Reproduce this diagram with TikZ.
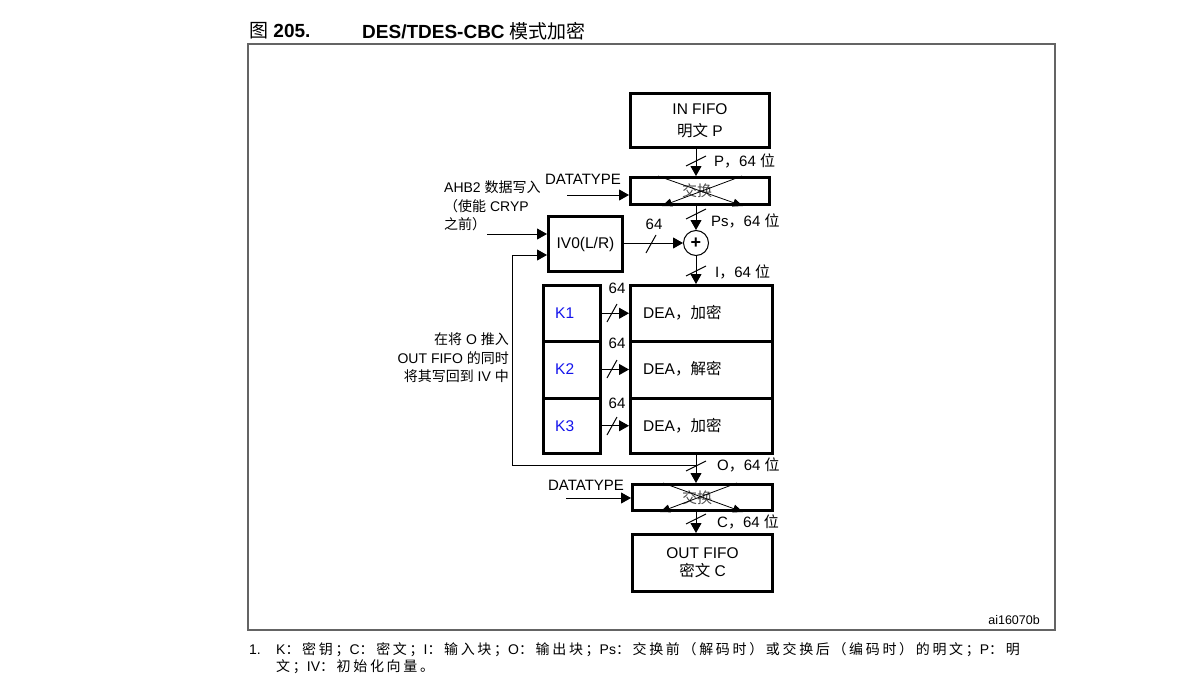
\documentclass[tikz,border=0pt]{standalone}
\usepackage{fontspec}
\setmainfont{Liberation Sans}
\newfontfamily\cjkf{Noto Sans CJK SC}
\newfontfamily\cjkfn[LetterSpace=19]{Noto Sans CJK SC}
\newcommand\zh[1]{{\cjkf #1}}
\newcommand\zf[1]{{\cjkfn #1}}
\usetikzlibrary{arrows.meta}
\definecolor{kblue}{RGB}{20,20,235}
\definecolor{framegray}{RGB}{100,100,100}
\newcommand\vsl[1]{\draw[slash] (#1) ++(-10,5) -- ++(20,-10);}
\newcommand\hsl[1]{\draw[slash] (#1) ++(-5,9) -- ++(10,-18);}
\begin{document}
\begin{tikzpicture}[x=1pt,y=-1pt,
  box/.style={draw, line width=3pt, inner sep=0pt, font=\fontsize{15.5}{19}\selectfont},
  lab/.style={inner sep=0pt, font=\fontsize{15}{18}\selectfont},
  note/.style={inner sep=0pt, font=\fontsize{14}{18.5}\selectfont},
  arr/.style={-{Triangle[length=10pt,width=11pt]}, line width=1pt},
  sarr/.style={-{Triangle[length=10pt,width=8pt]}, line width=0.8pt},
  slash/.style={line width=1pt},
  ktext/.style={text=kblue, font=\fontsize{15.5}{19}\selectfont}
]
\useasboundingbox (0,0) rectangle (1187,699);
% title
\node[anchor=west, inner sep=0pt, font=\fontsize{19}{22}\selectfont\bfseries] (t1) at (249,31) {\zh{\mdseries 图} 205.};
\node[anchor=west, inner sep=0pt, font=\fontsize{19}{22}\selectfont\bfseries] (t2) at (362,31) {DES/TDES-CBC \zh{\mdseries 模式加密}};
% frame
\draw[framegray, line width=1.3pt] (248,44) rectangle (1055,630);
% boxes
\node[box, minimum width=139, minimum height=54, align=center] (infifo) at (700,120.5) {IN FIFO\\[3pt]\zh{明文} P};
\node[box, minimum width=139, minimum height=27] (swap1) at (700,191) {};
\node[box, minimum width=74, minimum height=55] (iv) at (585.5,244) {IV0(L/R)};
\node[draw, circle, line width=1pt, minimum size=25, inner sep=0pt, font=\fontsize{18}{18}\selectfont\bfseries] (xor) at (696,243) {+};
\node[box, minimum width=57, minimum height=55.5] (k1) at (572,313.25) {};
\node[box, minimum width=57, minimum height=57] (k2) at (572,369.5) {};
\node[box, minimum width=57, minimum height=55.5] (k3) at (572,425.75) {};
\node[box, minimum width=142, minimum height=55.5] (dea1) at (701.5,313.25) {};
\node[box, minimum width=142, minimum height=57] (dea2) at (701.5,369.5) {};
\node[box, minimum width=142, minimum height=55.5] (dea3) at (701.5,425.75) {};
\node[box, minimum width=140, minimum height=26] (swap2) at (702.5,497.5) {};
\node[box, minimum width=140, minimum height=57, align=center] (outfifo) at (702.5,563) {OUT FIFO\\[-1pt]\zh{密文} C};
% texts in K and DEA boxes
\node[ktext, anchor=west, inner sep=0pt] (k1t) at (555,313) {K1};
\node[ktext, anchor=west, inner sep=0pt] (k2t) at (555,369) {K2};
\node[ktext, anchor=west, inner sep=0pt] (k3t) at (555,426) {K3};
\node[lab, anchor=west, font=\fontsize{15.5}{19}\selectfont] (d1t) at (643,313) {DEA\zh{，加密}};
\node[lab, anchor=west, font=\fontsize{15.5}{19}\selectfont] (d2t) at (643,369) {DEA\zh{，解密}};
\node[lab, anchor=west, font=\fontsize{15.5}{19}\selectfont] (d3t) at (643,426) {DEA\zh{，加密}};
% swap texts and crosses
\node[lab, font=\fontsize{15}{18}\selectfont\cjkf, text=black!70] (sw1t) at (697,191) {交换};
\node[lab, font=\fontsize{15}{18}\selectfont\cjkf, text=black!70] (sw2t) at (697,498) {交换};
\draw[sarr] ([xshift=-42pt]swap1.north) -- ([xshift=43pt]swap1.south);
\draw[sarr] ([xshift=42pt]swap1.north) -- ([xshift=-38pt]swap1.south);
\draw[sarr] ([xshift=-39.5pt]swap2.north) -- ([xshift=40.5pt]swap2.south);
\draw[sarr] ([xshift=34.5pt]swap2.north) -- ([xshift=-42.5pt]swap2.south);
% main connectors
\draw[arr] (infifo.south -| xor) -- (swap1.north -| xor);
\draw[arr] (swap1.south -| xor) -- (xor.north);
\draw[arr] (xor.south) -- (dea1.north -| xor);
\draw[arr] (iv.east |- xor) -- (xor.west);
\draw[arr] (k1.east) -- (dea1.west);
\draw[arr] (k2.east) -- (dea2.west);
\draw[arr] (k3.east) -- (dea3.west);
\draw[arr] (dea3.south -| xor) -- (swap2.north -| xor);
\draw[arr] (swap2.south -| xor) -- (outfifo.north -| xor);
% feedback
\coordinate (fb) at (696,465);
\coordinate (fbl) at (512,465);
\draw[arr] (fb) -- (fbl) |- ([yshift=-11pt]iv.west);
% side inputs
\coordinate (ahb) at (487,234);
\draw[arr] (ahb) -- (ahb -| iv.west);
\coordinate (dt1) at (567,195);
\draw[arr] (dt1) -- (dt1 -| swap1.west);
\coordinate (dt2) at (566,498);
\draw[arr] (dt2) -- (dt2 -| swap2.west);
% slashes
\vsl{696,161}
\vsl{696,214}
\vsl{696,271}
\vsl{696,466}
\vsl{696,519}
\hsl{651,244}
\hsl{612,313}
\hsl{612,369}
\hsl{612,426}
% labels
\node[lab, anchor=west] (lp) at (714,161) {P\zh{，}64 \zh{位}};
\node[lab, anchor=west] (lps) at (711,221) {Ps\zh{，}64 \zh{位}};
\node[lab, anchor=west] (li) at (715,272) {I\zh{，}64 \zh{位}};
\node[lab, anchor=west] (lo) at (717,465) {O\zh{，}64 \zh{位}};
\node[lab, anchor=west] (lc) at (717,522) {C\zh{，}64 \zh{位}};
\node[lab] (l64a) at (654,224) {64};
\node[lab] (l64b) at (617,288) {64};
\node[lab] (l64c) at (617,343) {64};
\node[lab] (l64d) at (617,403) {64};
\node[lab] (dtl1) at (583,179) {DATATYPE};
\node[lab] (dtl2) at (586,485) {DATATYPE};
\node[note, anchor=north west, align=left] (ahbt) at (444,181) {AHB2 \zh{数据写入}\\\zh{（使能} CRYP\\\zh{之前）}};
\node[note, anchor=north east, align=right] (fbt) at (509,333) {\zh{在将} O \zh{推入}\\OUT FIFO \zh{的同时}\\\zh{将其写回到} IV \zh{中}};
\node[inner sep=0pt, anchor=east, font=\fontsize{12.5}{15}\selectfont] (ai) at (1040,620) {ai16070b};
% footnote
\node[inner sep=0pt, anchor=west, font=\fontsize{14}{16}\selectfont] (fn0) at (249,650) {1.};
\node[inner sep=0pt, anchor=west, font=\fontsize{14}{16}\selectfont] (fn1) at (276,650) {K\zf{：密钥；}C\zf{：密文；}I\zf{：输入块；}O\zf{：输出块；}Ps\zf{：交换前（解码时）或交换后（编码时）的明文；}P\zf{：明}};
\node[inner sep=0pt, anchor=west, font=\fontsize{14}{16}\selectfont] (fn2) at (276,667) {\zf{文；}IV\zf{：初始化向量。}};
\end{tikzpicture}
\end{document}
